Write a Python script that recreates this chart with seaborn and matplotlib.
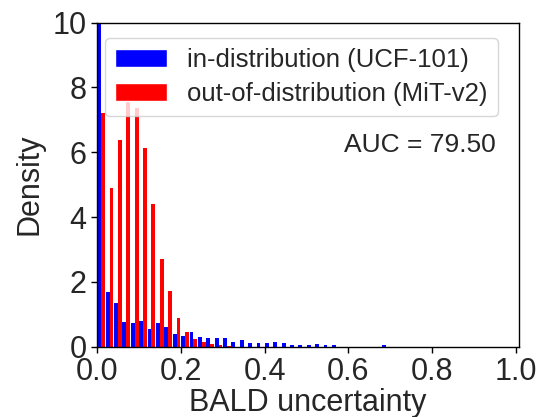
import numpy as np
import pandas as pd
import matplotlib
matplotlib.use("Agg")
import matplotlib.pyplot as plt
import seaborn as sns
from matplotlib.patches import Patch

# ---- data (density per bin of width 0.02) ----
bin_width = 0.02
in_label = "in-distribution (UCF-101)"
out_label = "out-of-distribution (MiT-v2)"
in_density = [39.0, 1.70, 1.34, 0.75, 0.74, 0.78, 0.56, 0.73, 0.61, 0.38,
              0.34, 0.44, 0.31, 0.28, 0.26, 0.28, 0.15, 0.21, 0.12, 0.10,
              0.12, 0.14, 0.12, 0.06, 0.06, 0.06, 0.07, 0.04, 0.05, 0.0,
              0.0, 0.0, 0.0, 0.0, 0.05]
out_density = [7.20, 4.89, 6.38, 7.55, 7.36, 6.14, 4.40, 2.70, 1.72, 0.90,
               0.46, 0.24, 0.15, 0.09, 0.06, 0.02]
auc_text = "AUC = 79.50"
x_ticks = [0.0, 0.2, 0.4, 0.6, 0.8, 1.0]
y_ticks = [0, 2, 4, 6, 8, 10]
colors = {in_label: "#0000ff", out_label: "#ff0000"}

rows = []
for label, dens in [(in_label, in_density), (out_label, out_density)]:
    for i, d in enumerate(dens):
        rows.append({"u": (i + 0.5) * bin_width, "w": d, "dist": label})
df = pd.DataFrame(rows)

sns.set_style("ticks")
plt.rcParams["font.family"] = ["Liberation Sans", "DejaVu Sans"]

fig = plt.figure(figsize=(5.39, 4.17), dpi=100)
ax = fig.add_axes([0.18, 0.1686, 0.9635 - 0.18, 0.9456 - 0.1686])

sns.histplot(data=df, x="u", weights="w", hue="dist",
             hue_order=[in_label, out_label], palette=colors,
             bins=50, binrange=(0, 1), multiple="dodge", shrink=0.92,
             stat="count", alpha=1.0, linewidth=0, legend=False, ax=ax)

ax.set_xlim(0, 1.008)
ax.set_ylim(0, 10)
ax.set_xticks(x_ticks)
ax.set_xticklabels([f"{t:.1f}" for t in x_ticks])
ax.set_yticks(y_ticks)
ax.tick_params(labelsize=22, length=4.5, width=1, color="black", pad=3)
ax.set_xlabel("BALD uncertainty", fontsize=22, labelpad=1)
ax.set_ylabel("Density", fontsize=22, labelpad=6)
for s in ax.spines.values():
    s.set_visible(True)
    s.set_color("black")
    s.set_linewidth(1.0)

handles = [Patch(facecolor=colors[in_label], label=in_label),
           Patch(facecolor=colors[out_label], label=out_label)]
ax.legend(handles=handles, loc="upper left", bbox_to_anchor=(0.019, 0.954),
          borderaxespad=0, fontsize=18.5, frameon=True, framealpha=0.8,
          labelspacing=0.4)

ax.text(0.945, 0.623, auc_text, transform=ax.transAxes, ha="right",
        va="center", fontsize=19)

fig.savefig("out.png", dpi=100)
